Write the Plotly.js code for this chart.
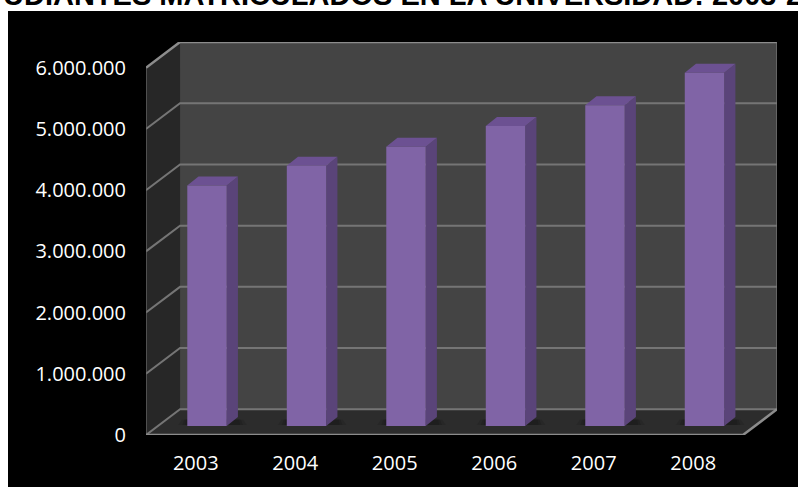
<!DOCTYPE html>
<html>
<head>
<meta charset="utf-8">
<script src="https://cdn.plot.ly/plotly-3.0.1.min.js"></script>
<style>html,body{margin:0;padding:0;background:#fff;overflow:hidden}#chart{width:798px;height:487px}</style>
</head>
<body>
<div id="chart"></div>
<script>
const chartTitle = 'ESTUDIANTES MATRICULADOS EN LA UNIVERSIDAD: 2003-2008';
const years = ['2003', '2004', '2005', '2006', '2007', '2008'];
const students = [3930000, 4250000, 4560000, 4900000, 5240000, 5770000];
const valueTicks = [0, 1000000, 2000000, 3000000, 4000000, 5000000, 6000000];

const W = 798, H = 487;
const M = {l: 146, r: 21, t: 42, b: 52};
const xMin = -0.5, xFront = years.length - 0.5;
const wallDx = 0.342, wallDy = 420000;
const barHalf = 0.198, barDx = 0.113, barDy = 147000, barInset = 0.113;
const yTop = 6420000;

const traces = [];
function face(xs, ys, color, opacity) {
  traces.push({x: xs, y: ys, type: 'scatter', mode: 'lines', fill: 'toself', fillcolor: color,
    line: {width: 0, color: color}, opacity: opacity === undefined ? 1 : opacity, hoverinfo: 'skip', showlegend: false});
}
function edge(xs, ys, color, width) {
  traces.push({x: xs, y: ys, type: 'scatter', mode: 'lines', line: {color: color, width: width},
    hoverinfo: 'skip', showlegend: false});
}
const backMax = valueTicks[valueTicks.length - 1];

// walls and floor
face([xMin + wallDx, xFront + wallDx, xFront + wallDx, xMin + wallDx], [wallDy, wallDy, backMax + wallDy, backMax + wallDy], '#444444');
face([xMin, xMin + wallDx, xMin + wallDx, xMin], [0, wallDy, backMax + wallDy, backMax], '#272727');
face([xMin, xFront, xFront + wallDx, xMin + wallDx], [0, 0, wallDy, wallDy], '#2c2c2c');

// grid lines on both walls
valueTicks.forEach((v, i) => {
  const top = i === valueTicks.length - 1;
  edge([xMin, xMin + wallDx, xFront + wallDx], [v, v + wallDy, v + wallDy], top ? '#8c8c8c' : '#757575', top ? 2.5 : 2);
});
edge([xFront + wallDx, xFront + wallDx], [wallDy, backMax + wallDy], '#7c7c7c', 1.2);
edge([xMin, xMin], [0, backMax], '#6e6e6e', 1.2);
edge([xMin, xFront, xFront + wallDx], [0, 0, wallDy], '#8c8c8c', 2.5);

// bars, with a soft contact shadow on the floor
years.forEach((y, i) => {
  const l = i + barInset - barHalf, r = i + barInset + barHalf, v = students[i] + barDy;
  [[0.09, 0.22], [0.05, 0.3], [0.02, 0.35]].forEach(([pad, alpha]) => {
    face([l - pad, r + barDx + pad, r + barDx + pad * 0.6, l - pad * 0.6],
         [barDy * 1.12, barDy * 1.12, barDy * 1.7, barDy * 1.7], '#161616', alpha);
  });
  face([r, r + barDx, r + barDx, r], [barDy, barDy * 2, v + barDy, v], '#5a4479');
  face([l, r, r + barDx, l + barDx], [v, v, v + barDy, v + barDy], '#6c5192');
  face([l, r, r, l], [barDy, barDy, v, v], '#8064a6');
});

const layout = {
  width: W, height: H,
  paper_bgcolor: '#ffffff', plot_bgcolor: 'rgba(0,0,0,0)',
  margin: M, showlegend: false, hovermode: false,
  separators: ',.',
  title: {text: '<b>' + chartTitle + '</b>', x: 0.4995, xref: 'container', xanchor: 'center', y: 0.99, yref: 'container', yanchor: 'bottom',
    font: {family: 'Liberation Sans', size: 29, color: '#000000'}},
  xaxis: {range: [xMin, xFront + wallDx], tickmode: 'array', tickvals: years.map((_, i) => i), ticktext: years,
    showgrid: false, zeroline: false, showline: false, ticks: '', ticklabelstandoff: 14,
    tickfont: {family: 'Open Sans', size: 20, color: '#ffffff'}, fixedrange: true},
  yaxis: {range: [0, yTop], tickmode: 'array', tickvals: valueTicks, tickformat: ',d',
    showgrid: false, zeroline: false, showline: false, ticks: '', ticklabelstandoff: 19,
    tickfont: {family: 'Open Sans', size: 20, color: '#ffffff'}, fixedrange: true},
  shapes: [{type: 'rect', layer: 'below', xref: 'paper', yref: 'paper',
    x0: (8 - M.l) / (W - M.l - M.r), x1: (W - M.l) / (W - M.l - M.r),
    y0: -M.b / (H - M.t - M.b), y1: (H - M.b - 11) / (H - M.t - M.b),
    fillcolor: '#000000', line: {width: 0}}]
};
Plotly.newPlot('chart', traces, layout, {displayModeBar: false, staticPlot: true});
</script>
</body>
</html>
